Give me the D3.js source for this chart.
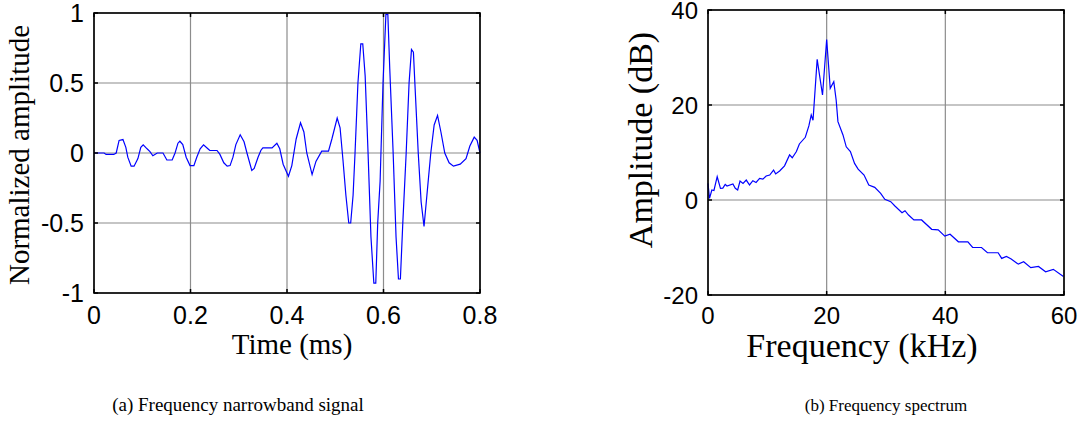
<!DOCTYPE html>
<html><head><meta charset="utf-8">
<script src="https://cdn.jsdelivr.net/npm/d3@7"></script>
<style>body{margin:0;background:#fff}svg{display:block}</style>
</head><body>
<svg id="c" width="1078" height="428"></svg>
<script>
// ---- Data: (a) narrowband signal ----
const timeMs = [0,0.021,0.025,0.041,0.046,0.052,0.060,0.066,0.070,0.077,0.083,0.091,0.097,0.102,0.110,0.116,0.122,0.131,0.143,0.151,0.162,0.168,0.174,0.178,0.184,0.191,0.199,0.207,0.213,0.220,0.227,0.236,0.240,0.255,0.261,0.269,0.276,0.282,0.288,0.294,0.303,0.311,0.317,0.327,0.332,0.340,0.346,0.350,0.369,0.379,0.385,0.392,0.403,0.410,0.419,0.428,0.435,0.441,0.452,0.460,0.472,0.486,0.493,0.504,0.510,0.516,0.522,0.528,0.532,0.537,0.541,0.547,0.553,0.557,0.562,0.568,0.574,0.580,0.584,0.588,0.593,0.599,0.605,0.609,0.613,0.620,0.626,0.631,0.635,0.640,0.647,0.653,0.658,0.662,0.665,0.672,0.678,0.684,0.690,0.698,0.705,0.712,0.719,0.727,0.736,0.745,0.759,0.771,0.779,0.788,0.794,0.800];
const amplitude = [0,0,-0.01,-0.01,0,0.09,0.096,0.04,-0.03,-0.094,-0.094,-0.04,0.04,0.058,0.03,0.01,-0.02,0,0,-0.05,-0.05,0,0.07,0.084,0.06,-0.03,-0.09,-0.09,-0.03,0.03,0.058,0.03,0.018,0.018,-0.01,-0.07,-0.094,-0.09,-0.03,0.06,0.13,0.08,0,-0.125,-0.11,-0.03,0.02,0.037,0.037,0.07,0.03,-0.08,-0.166,-0.09,0.1,0.216,0.15,0,-0.154,-0.06,0.013,0.013,0.1,0.25,0.18,-0.05,-0.3,-0.5,-0.5,-0.3,0,0.5,0.78,0.78,0.55,0,-0.6,-0.93,-0.93,-0.5,-0.2,0.5,0.99,0.99,0.6,0,-0.6,-0.9,-0.9,-0.5,0,0.5,0.74,0.72,0.5,0,-0.35,-0.525,-0.3,0,0.2,0.268,0.15,0,-0.07,-0.094,-0.08,-0.04,0.05,0.113,0.09,0];
const timeTicks = [0,0.2,0.4,0.6,0.8];
const ampTicks = [-1,-0.5,0,0.5,1];

// ---- Data: (b) frequency spectrum ----
const freqKHz = [0,0.25,0.65,1.0,1.55,2.1,2.5,2.9,3.2,4.2,4.6,5.0,5.4,5.9,6.45,7.0,7.56,8.1,8.7,9.25,9.8,10.4,11.05,11.4,12.07,12.9,13.75,14.2,14.9,15.4,16.4,17.0,17.4,17.7,18.4,19.3,20.0,20.6,21.2,21.6,21.9,22.75,23.3,24.0,24.7,25.3,26.3,27.1,28.1,29.1,29.8,30.8,31.5,32.7,33.2,33.8,34.7,36.0,37.7,38.8,39.9,40.8,42.2,43.8,44.6,46.1,47.1,48.9,49.5,50.3,51.1,52.3,53.2,54.4,55.7,56.9,58.2,59.9];
const ampDB = [3.5,0.35,2.1,2.0,4.9,2.46,2.5,3.3,2.95,3.37,2.46,2.1,4.0,3.5,4.2,3.16,4.07,3.7,4.56,4.4,5.05,5.26,6.3,5.5,6.1,7.2,9.5,8.9,10.2,11.8,13.2,15.6,17.9,16.8,29.6,22.1,33.8,23.5,24.9,21.05,16.5,13.7,11.2,10.2,7.7,6.5,5.26,3.16,2.67,1.4,0.14,-0.35,-1.26,-2.67,-2.25,-3.16,-4.2,-4.2,-6.17,-6.3,-7.6,-7.2,-8.8,-8.8,-10,-10,-11.1,-11.1,-12.3,-11.9,-12.4,-13.5,-13.0,-14.25,-14.0,-15.1,-14.6,-16.1];
const freqTicks = [0,20,40,60];
const dbTicks = [-20,0,20,40];

const svg = d3.select('#c');

function panel(o){
  const g = svg.append('g');
  const x = d3.scaleLinear().domain(o.xd).range([o.x0,o.x1]);
  const y = d3.scaleLinear().domain(o.yd).range([o.y1,o.y0]);
  g.selectAll('.gx').data(o.xt).enter().append('line')
    .attr('x1',d=>x(d)).attr('x2',d=>x(d)).attr('y1',o.y0).attr('y2',o.y1)
    .attr('stroke','#8c8c8c').attr('stroke-width',1.2);
  g.selectAll('.gy').data(o.yt).enter().append('line')
    .attr('y1',d=>y(d)).attr('y2',d=>y(d)).attr('x1',o.x0).attr('x2',o.x1)
    .attr('stroke','#8c8c8c').attr('stroke-width',1.2);
  const pts = o.xs.map((v,i)=>[v,o.ys[i]]);
  g.append('path').datum(pts)
    .attr('d',d3.line().x(d=>x(d[0])).y(d=>y(d[1])))
    .attr('fill','none').attr('stroke','#0000ff').attr('stroke-width',1.2);
  const tl = 4;
  o.xt.forEach(d=>{
    g.append('line').attr('x1',x(d)).attr('x2',x(d)).attr('y1',o.y1).attr('y2',o.y1-tl).attr('stroke','#000').attr('stroke-width',1.5);
    g.append('line').attr('x1',x(d)).attr('x2',x(d)).attr('y1',o.y0).attr('y2',o.y0+tl).attr('stroke','#000').attr('stroke-width',1.5);
  });
  o.yt.forEach(d=>{
    g.append('line').attr('y1',y(d)).attr('y2',y(d)).attr('x1',o.x0).attr('x2',o.x0+tl).attr('stroke','#000').attr('stroke-width',1.5);
    g.append('line').attr('y1',y(d)).attr('y2',y(d)).attr('x1',o.x1).attr('x2',o.x1-tl).attr('stroke','#000').attr('stroke-width',1.5);
  });
  g.append('rect').attr('x',o.x0).attr('y',o.y0).attr('width',o.x1-o.x0).attr('height',o.y1-o.y0)
    .attr('fill','none').attr('stroke','#000').attr('stroke-width',1.6);
  const tf = "'Liberation Sans', Arial, sans-serif";
  g.selectAll('.xl').data(o.xt).enter().append('text')
    .attr('x',d=>x(d)).attr('y',o.y1+o.xto).attr('text-anchor','middle')
    .attr('font-family',tf).attr('font-size',o.tfs).text(d=>d);
  g.selectAll('.yl').data(o.yt).enter().append('text')
    .attr('x',o.x0-10).attr('y',d=>y(d)+9).attr('text-anchor','end')
    .attr('font-family',tf).attr('font-size',o.tfs).text(d=>d);
  const lf = "'Liberation Serif', 'Times New Roman', serif";
  g.append('text').attr('x',o.xlc).attr('y',o.y1+o.xlo).attr('text-anchor','middle')
    .attr('font-family',lf).attr('font-size',o.lfs).text(o.xlabel);
  g.append('text').attr('transform',`translate(${o.ylx},${o.ylc}) rotate(-90)`)
    .attr('text-anchor','middle').attr('font-family',lf).attr('font-size',o.lfs).text(o.ylabel);
  g.append('text').attr('x',o.capx).attr('y',411).attr('text-anchor','middle')
    .attr('font-family',lf).attr('font-size',o.cfs).text(o.caption);
}

panel({xd:[0,0.8],yd:[-1,1],x0:94,x1:480,y0:13,y1:293,xs:timeMs,ys:amplitude,
  xt:timeTicks,yt:ampTicks,xlabel:'Time (ms)',ylabel:'Normalized amplitude',ylx:29,lfs:29,tfs:25,
  xlc:292,ylc:155,cfs:19,xto:31,xlo:61,
  caption:'(a) Frequency narrowband signal',capx:238});
panel({xd:[0,60],yd:[-20,40],x0:708,x1:1064,y0:10,y1:295,xs:freqKHz,ys:ampDB,
  xt:freqTicks,yt:dbTicks,xlabel:'Frequency (kHz)',ylabel:'Amplitude (dB)',ylx:652,lfs:34,tfs:24,
  xlc:862,ylc:140,cfs:17,xto:29,xlo:62,
  caption:'(b) Frequency spectrum',capx:886});
</script>
</body></html>
